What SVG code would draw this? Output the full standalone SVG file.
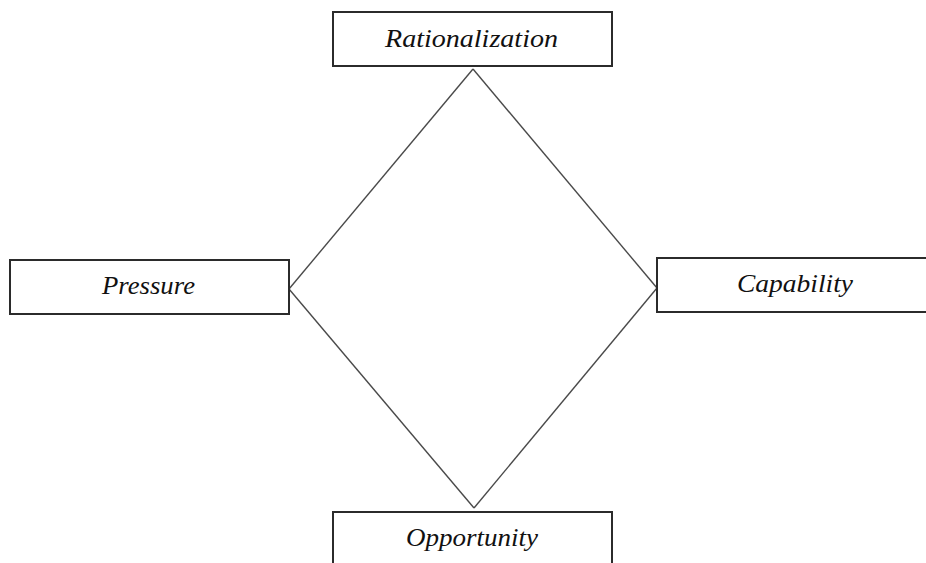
<svg xmlns="http://www.w3.org/2000/svg" width="926" height="563" viewBox="0 0 926 563">
<style>
.box{fill:#fff;stroke:#2b2b2b;stroke-width:2}
.lbl{font-family:"Liberation Serif","Times New Roman",serif;font-style:italic;font-size:25px;fill:#111;text-anchor:middle}
.edge{stroke:#4a4a4a;stroke-width:1.4;fill:none}
</style>
<rect width="926" height="563" fill="#fff"/>
<g id="connectors">
<line class="edge" x1="473" y1="69" x2="657" y2="288"/>
<line class="edge" x1="657" y1="288" x2="474" y2="508"/>
<line class="edge" x1="474" y1="508" x2="289" y2="289"/>
<line class="edge" x1="289" y1="289" x2="473" y2="69"/>
</g>
<g id="rationalization">
<rect class="box" x="333" y="12" width="279" height="54"/>
<text class="lbl" x="471.5" y="47" textLength="173" lengthAdjust="spacingAndGlyphs">Rationalization</text>
</g>
<g id="pressure">
<rect class="box" x="10" y="260" width="279" height="54"/>
<text class="lbl" x="148.5" y="294" textLength="93" lengthAdjust="spacingAndGlyphs">Pressure</text>
</g>
<g id="capability">
<rect class="box" x="657" y="258" width="279" height="54"/>
<text class="lbl" x="795" y="292" textLength="116" lengthAdjust="spacingAndGlyphs">Capability</text>
</g>
<g id="opportunity">
<rect class="box" x="333" y="512" width="279" height="60"/>
<text class="lbl" x="472" y="546" textLength="132" lengthAdjust="spacingAndGlyphs">Opportunity</text>
</g>
</svg>
